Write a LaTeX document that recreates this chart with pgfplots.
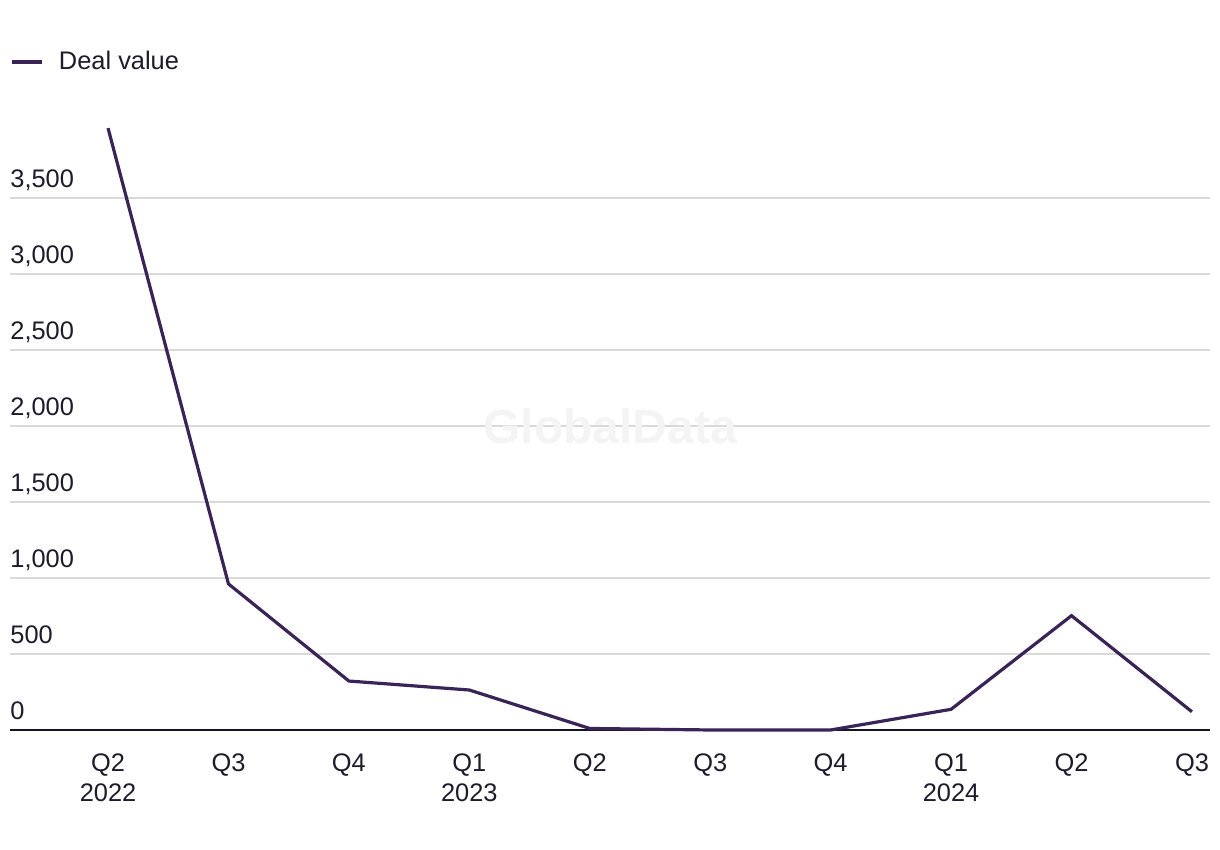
\documentclass[border=0pt]{standalone}
\usepackage{fontspec}
\setmainfont{Liberation Sans}
\usepackage{pgfplots}
\pgfplotsset{compat=1.18}

\definecolor{dealc}{HTML}{3A2357}
\definecolor{txtc}{HTML}{1E1B2B}
\definecolor{gridc}{HTML}{D9D9D9}
\definecolor{basec}{HTML}{17142A}
\definecolor{wmark}{HTML}{F4F4F4}

\pgfplotstableread{
idx value
0 3960
1 961
2 322
3 263
4 10
5 0
6 0
7 136
8 752
9 120
}\dealtable

\begin{document}
\begin{tikzpicture}
\begin{axis}[
  scale only axis,
  width=600pt, height=304pt,
  xmin=-0.814, xmax=9.15,
  ymin=0, ymax=4000,
  clip=false,
  axis line style={draw=none},
  tick style={draw=none},
  font=\fontsize{12.7}{15}\selectfont,
  every tick label/.append style={text=txtc},
  xtick={0,...,9},
  xticklabels={{Q2\\2022},Q3,Q4,{Q1\\2023},Q2,Q3,Q4,{Q1\\2024},Q2,Q3},
  xticklabel style={align=center, anchor=north, inner sep=0pt, yshift=-11.5pt},
  ytick={500,1000,...,3500},
  extra y ticks={0},
  extra y tick style={grid style={basec, line width=1pt}},
  yticklabel style={anchor=base west, inner sep=0pt, yshift=5pt},
  /pgf/number format/assume math mode=true,
  /pgf/number format/1000 sep={,},
  ymajorgrids,
  grid style={gridc, line width=0.75pt},
  legend style={draw=none, fill=none, at={(axis description cs:0,1)}, anchor=west,
    yshift=30pt, inner sep=0pt, nodes={inner sep=0pt, text=txtc}},
  legend cell align=left,
  legend image code/.code={\draw[#1, line width=2pt] (0pt,0pt) -- (15pt,0pt); \path (22.5pt,0pt);},
]
\node[text=wmark, font=\fontsize{24}{24}\selectfont\bfseries] at (axis cs:4.17,2000) {GlobalData};
\addplot[dealc, line width=1.6pt, no markers] table[x=idx, y=value] {\dealtable};
\addlegendentry{Deal value}
\end{axis}
\useasboundingbox ([xshift=-5pt,yshift=-60pt]current axis.south west) rectangle ([xshift=5pt,yshift=61pt]current axis.north east);
\end{tikzpicture}
\end{document}
